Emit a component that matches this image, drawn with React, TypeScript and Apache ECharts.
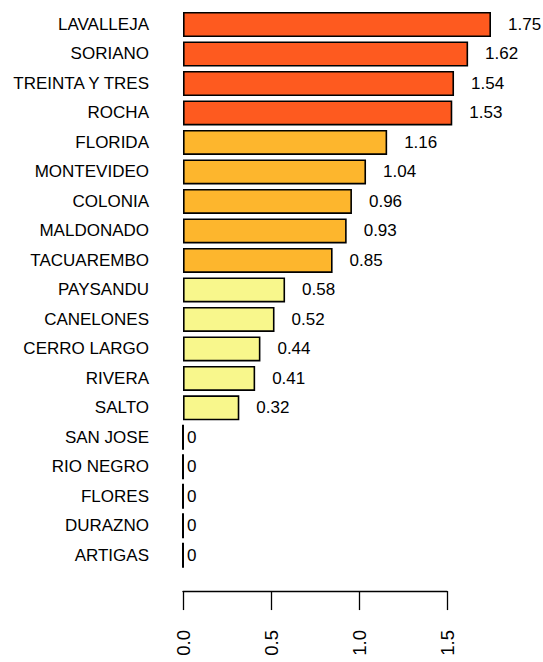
import React, { useEffect, useRef } from "react";
import * as echarts from "echarts";

const categories = [
  "LAVALLEJA", "SORIANO", "TREINTA Y TRES", "ROCHA", "FLORIDA", "MONTEVIDEO",
  "COLONIA", "MALDONADO", "TACUAREMBO", "PAYSANDU", "CANELONES", "CERRO LARGO",
  "RIVERA", "SALTO", "SAN JOSE", "RIO NEGRO", "FLORES", "DURAZNO", "ARTIGAS",
];
const values = [1.75, 1.62, 1.54, 1.53, 1.16, 1.04, 0.96, 0.93, 0.85, 0.58, 0.52, 0.44, 0.41, 0.32, 0, 0, 0, 0, 0];
const tiers = [2, 2, 2, 2, 1, 1, 1, 1, 1, 0, 0, 0, 0, 0, 0, 0, 0, 0, 0];
const tierColors = ["#F8F78C", "#FDB62D", "#FE5A1F"];
const xTicks = [0, 0.5, 1.0, 1.5];

const FONT = "'Liberation Sans', Arial, Helvetica, sans-serif";

export default function App() {
  const ref = useRef<HTMLDivElement>(null);
  useEffect(() => {
    if (!ref.current) return;
    const chart = echarts.init(ref.current, undefined, { renderer: "svg" });
    const pitch = 29.49;
    const top = 24.5 - pitch / 2;
    const gridH = pitch * categories.length;
    chart.setOption({
      animation: false,
      backgroundColor: "#ffffff",
      grid: {
        left: 183,
        top: top,
        width: 264,
        height: gridH,
        containLabel: false,
        outerBoundsMode: "none",
      },
      xAxis: {
        type: "value",
        min: xTicks[0],
        max: xTicks[xTicks.length - 1],
        interval: 0.5,
        position: "bottom",
        offset: 21,
        axisLine: { show: true, lineStyle: { color: "#000", width: 1.3 } },
        axisTick: { show: true, length: 19, lineStyle: { color: "#000", width: 1.3 } },
        splitLine: { show: false },
        axisLabel: {
          rotate: 90,
          margin: 39,
          color: "#000",
          fontSize: 18.5,
          fontFamily: FONT,
          formatter: (v: number) => v.toFixed(1),
        },
      },
      yAxis: {
        type: "category",
        inverse: true,
        data: categories,
        axisLine: { show: false },
        axisTick: { show: false },
        splitLine: { show: false },
        axisLabel: {
          margin: 34,
          color: "#000",
          fontSize: 17,
          fontFamily: FONT,
        },
      },
      series: [
        {
          type: "bar",
          clip: false,
          barWidth: 25,
          data: values.map((v, i) => ({
            value: v,
            itemStyle: {
              color: tierColors[tiers[i]],
              borderColor: "#000",
              borderWidth: v === 0 ? 2 : 1.6,
            },
            label: { distance: v === 0 ? 3 : 17 },
          })),
          label: {
            show: true,
            position: "right",
            color: "#000",
            fontSize: 17,
            fontFamily: FONT,
            formatter: (p: any) => (p.value === 0 ? "0" : p.value.toFixed(2)),
          },
        },
      ],
    });
    return () => chart.dispose();
  }, []);
  return (
    <div
      ref={ref}
      style={{ position: "fixed", left: 0, top: 0, width: 543, height: 662 }}
    />
  );
}
